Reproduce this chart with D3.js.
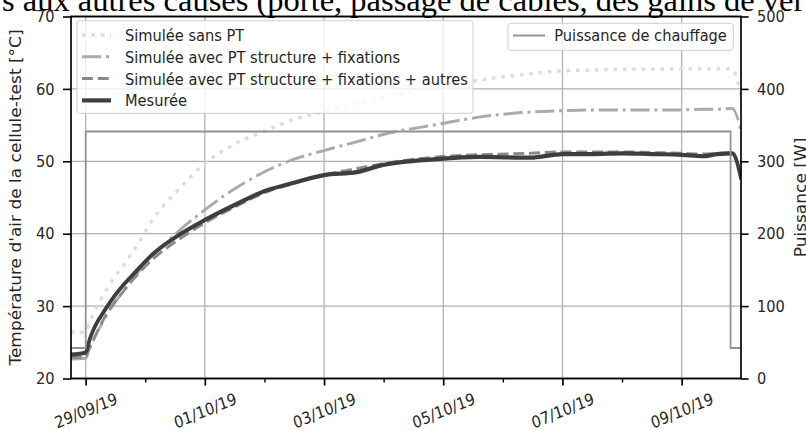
<!DOCTYPE html>
<html>
<head>
<meta charset="utf-8">
<script src="https://cdn.jsdelivr.net/npm/d3@7"></script>
<style>
html, body { margin: 0; padding: 0; background: #fff; overflow: hidden; }
svg { display: block; }
</style>
</head>
<body>
<svg id="chart" width="806" height="430"></svg>
<script>
// jours écoulés depuis le 29/09/2019 00:00
const jours = [-0.25, 0, 0.07, 0.35, 0.63, 0.8, 1.13, 1.58, 2, 2.48, 3.04, 3.43, 4, 4.55, 4.94, 5.9, 6.6, 7.46, 8, 8.5, 9, 9.5, 10, 10.35, 10.6, 10.85, 11];
const simSansPT = [26.4, 26.4, 27.8, 32.3, 35.6, 37.6, 42.0, 46.3, 49.7, 52.3, 54.3, 55.6, 56.9, 58.0, 58.7, 60.2, 61.2, 62.1, 62.5, 62.6, 62.7, 62.7, 62.8, 62.8, 62.8, 62.7, 58.8];
const simStructFix = [22.7, 22.8, 24.2, 28.7, 32.1, 33.9, 37.0, 40.5, 43.3, 46.1, 48.7, 50.1, 51.5, 52.7, 53.6, 55.1, 56.1, 56.8, 57.0, 57.1, 57.1, 57.1, 57.1, 57.2, 57.2, 57.3, 54.0];
const simStructFixAutres = [22.9, 23.0, 24.3, 28.9, 32.0, 33.7, 36.5, 39.3, 41.5, 43.6, 45.8, 46.8, 48.1, 49.0, 49.6, 50.6, 50.9, 51.1, 51.3, 51.3, 51.3, 51.2, 51.1, 51.0, 51.1, 51.2, 47.8];
const mesuree = [23.3, 23.6, 25.5, 29.8, 32.9, 34.4, 37.2, 39.9, 41.9, 43.9, 46.0, 46.9, 48.1, 48.5, 49.4, 50.3, 50.6, 50.5, 51.0, 51.0, 51.1, 51.0, 50.9, 50.7, 51.0, 51.1, 47.5];

const puissanceJours = [-0.25, 0, 10.82, 11];
const puissanceW = [42, 341, 42, 42];

const xDomain = ['28/09/19 18:05', '09/10/19 23:53'];
const xTickLabels = ['29/09/19', '01/10/19', '03/10/19', '05/10/19', '07/10/19', '09/10/19'];
const tempTicks = [20, 30, 40, 50, 60, 70];
const powerTicks = [0, 100, 200, 300, 400, 500];

const series = [
  { name: 'Simulée sans PT', values: simSansPT, color: '#dcdcdc', width: 3.5, dash: '4,6.6' },
  { name: 'Simulée avec PT structure + fixations', values: simStructFix, color: '#ababab', width: 3, dash: '21.7,5.4,3.4,5.4' },
  { name: 'Simulée avec PT structure + fixations + autres', values: simStructFixAutres, color: '#8a8a8a', width: 3, dash: '12.4,5.4' },
  { name: 'Mesurée', values: mesuree, color: '#3e3e3e', width: 4.2, dash: null },
];
const powerName = 'Puissance de chauffage';

// the figure was squeezed horizontally when placed in the document
const SX = 0.885;
const L = 71, R = 741, T = 16.5, B = 378.5;
const FONT = 'DejaVu Sans, sans-serif';
const FS = 16.5;

const parseDay = d3.timeParse('%d/%m/%y');
const parseFull = d3.timeParse('%d/%m/%y %H:%M');
const base = parseDay('29/09/19');
const toDate = d => new Date(base.getTime() + d * 864e5);

const x = d3.scaleTime().domain(xDomain.map(parseFull)).range([L / SX, R / SX]);
const yT = d3.scaleLinear().domain([20, 70]).range([B, T]);
const yP = d3.scaleLinear().domain([0, 500]).range([B, T]);

const svg = d3.select('#chart');

// bit of the document text above the figure
svg.append('text').attr('x', 2).attr('y', 10.5)
  .attr('font-family', 'Liberation Serif, serif').attr('font-size', 32.5).attr('fill', '#000')
  .text('s aux autres causes (porte, passage de câbles, des gains de ver');

const g = svg.append('g').attr('transform', `scale(${SX},1)`);

g.append('clipPath').attr('id', 'plot-clip').append('rect')
  .attr('x', L / SX).attr('y', T).attr('width', (R - L) / SX).attr('height', B - T);

const majorDates = xTickLabels.map(parseDay);
const minorDates = d3.timeDay.range(x.domain()[0], x.domain()[1]).filter(d => !majorDates.some(m => +m === +d));

// grid
majorDates.forEach(d => {
  g.append('line').attr('x1', x(d)).attr('x2', x(d)).attr('y1', T).attr('y2', B)
    .attr('stroke', '#b0b0b0').attr('stroke-width', 1.4);
});
tempTicks.slice(1, -1).forEach(v => {
  g.append('line').attr('x1', L / SX).attr('x2', R / SX).attr('y1', yT(v)).attr('y2', yT(v))
    .attr('stroke', '#b0b0b0').attr('stroke-width', 1.3);
});

// temperatures
const lineT = d3.line().x(d => x(toDate(d[0]))).y(d => yT(d[1])).curve(d3.curveMonotoneX);
const plotG = g.append('g').attr('clip-path', 'url(#plot-clip)');
series.forEach(s => {
  plotG.append('path').datum(jours.map((j, i) => [j, s.values[i]]))
    .attr('d', lineT).attr('fill', 'none').attr('stroke', s.color)
    .attr('stroke-width', s.width).attr('stroke-dasharray', s.dash)
    .attr('stroke-linejoin', 'round');
});

// left legend
const legL = g.append('g');
legL.append('rect').attr('x', 77 / SX).attr('y', 20.7).attr('width', (473 - 77) / SX).attr('height', 92.6)
  .attr('rx', 3).attr('fill', '#fff').attr('fill-opacity', 0.8).attr('stroke', '#cccccc').attr('stroke-width', 1);
series.forEach((s, i) => {
  const cy = 35 + i * 21.8;
  legL.append('line').attr('x1', 82 / SX).attr('x2', 111 / SX).attr('y1', cy).attr('y2', cy)
    .attr('stroke', s.color).attr('stroke-width', s.width).attr('stroke-dasharray', s.dash);
  legL.append('text').attr('x', 125 / SX).attr('y', cy).attr('dy', '0.36em')
    .attr('font-family', FONT).attr('font-size', FS).attr('fill', '#262626').text(s.name);
});

// power (second axis)
const lineP = d3.line().x(d => x(toDate(d[0]))).y(d => yP(d[1])).curve(d3.curveStepAfter);
plotG.append('path').datum(puissanceJours.map((j, i) => [j, puissanceW[i]]))
  .attr('d', lineP).attr('fill', 'none').attr('stroke', '#929292').attr('stroke-width', 2);

const legR = g.append('g');
legR.append('rect').attr('x', 508 / SX).attr('y', 23.3).attr('width', (733.3 - 508) / SX).attr('height', 27)
  .attr('rx', 3).attr('fill', '#fff').attr('fill-opacity', 0.8).attr('stroke', '#cccccc').attr('stroke-width', 1);
legR.append('line').attr('x1', 513 / SX).attr('x2', 545 / SX).attr('y1', 35.5).attr('y2', 35.5)
  .attr('stroke', '#929292').attr('stroke-width', 2);
legR.append('text').attr('x', 554.3 / SX).attr('y', 35.5).attr('dy', '0.36em')
  .attr('font-family', FONT).attr('font-size', FS).attr('fill', '#262626').text(powerName);

// axes
function styleAxis(sel) {
  sel.select('.domain').remove();
  sel.selectAll('.tick line').attr('stroke', '#000').attr('stroke-width', 1.6);
  sel.selectAll('.tick text').attr('font-family', FONT).attr('font-size', FS).attr('fill', '#262626');
}
const axLeft = g.append('g').attr('transform', `translate(${L / SX},0)`)
  .call(d3.axisLeft(yT).tickValues(tempTicks).tickSize(8 / SX).tickPadding(8.5 / SX).tickFormat(d3.format('d')));
styleAxis(axLeft);
const axRight = g.append('g').attr('transform', `translate(${R / SX},0)`)
  .call(d3.axisRight(yP).tickValues(powerTicks).tickSize(7.6 / SX).tickPadding(8.4 / SX).tickFormat(d3.format('d')));
styleAxis(axRight);
const axMinor = g.append('g').attr('transform', `translate(0,${B})`)
  .call(d3.axisBottom(x).tickValues(minorDates).tickSize(4).tickFormat(''));
styleAxis(axMinor);
axMinor.selectAll('.tick line').attr('stroke-width', 1.4 / SX);
const fmt = d3.timeFormat('%d/%m/%y');
const axBottom = g.append('g').attr('transform', `translate(0,${B})`)
  .call(d3.axisBottom(x).tickValues(majorDates).tickSize(7).tickFormat(fmt));
styleAxis(axBottom);
axBottom.selectAll('.tick line').attr('stroke-width', 1.7 / SX);
axBottom.selectAll('.tick text')
  .attr('y', 0).attr('dy', null)
  .attr('text-anchor', 'middle').attr('dominant-baseline', 'central')
  .attr('transform', 'translate(0,32.5) rotate(-20)');

// spines
g.append('rect').attr('x', L / SX).attr('y', T).attr('width', (R - L) / SX).attr('height', B - T)
  .attr('fill', 'none').attr('stroke', '#000').attr('stroke-width', 1.9);

// axis labels
g.append('text').attr('transform', `translate(${21 / SX},${(T + B) / 2}) rotate(-90)`)
  .attr('text-anchor', 'middle').attr('font-family', FONT).attr('font-size', 17).attr('fill', '#262626')
  .text("Température d'air de la cellule-test [°C]");
g.append('text').attr('transform', `translate(${805.7 / SX},${(T + B) / 2}) rotate(-90)`)
  .attr('text-anchor', 'middle').attr('font-family', FONT).attr('font-size', 17).attr('fill', '#262626')
  .text('Puissance [W]');
</script>
</body>
</html>
